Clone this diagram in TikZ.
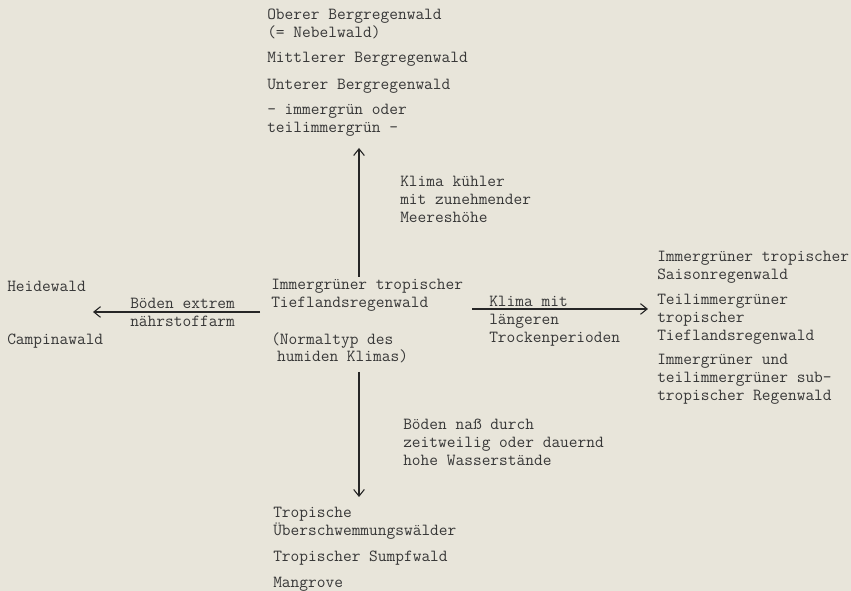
\documentclass[tikz,border=0pt]{standalone}
\usetikzlibrary{arrows.meta}
\definecolor{paper}{RGB}{232,229,218}
\definecolor{ink}{RGB}{55,55,55}
\begin{document}
\begin{tikzpicture}[x=0.75pt,y=-0.75pt,
  lbl/.style={anchor=north west,inner sep=0pt,align=left,text=ink,
    font=\fontsize{12.7}{13.3}\selectfont\ttfamily},
  arr/.style={draw=black!85,line width=0.8pt,-{Straight Barb[length=5pt,width=8pt]}}]
\fill[paper] (0,0) rectangle (851,591);
\useasboundingbox (0,0) rectangle (851,591);
% top
\node[lbl] (top1) at (267,9) {Oberer Bergregenwald\\(= Nebelwald)};
\node[lbl] (top2) at (267,52) {Mittlerer Bergregenwald};
\node[lbl] (top3) at (267,79) {Unterer Bergregenwald};
\node[lbl] (top4) at (267,104) {- immergrün oder\\teilimmergrün -};
% centre
\node[lbl] (c1) at (271,279) {Immergrüner tropischer\\Tieflandsregenwald};
\node[lbl] (c2) at (271,332) {(Normaltyp des\\\hspace*{0.35em}humiden Klimas)};
% labels
\node[lbl] (up) at (400,176) {Klima kühler\\mit zunehmender\\Meereshöhe};
\node[lbl] (dn) at (403,419) {Böden naß durch\\zeitweilig oder dauernd\\hohe Wasserstände};
\node[lbl] (lf) at (130,298) {Böden extrem\\nährstoffarm};
\node[lbl] (rt) at (489,296) {Klima mit\\längeren\\Trockenperioden};
% bottom
\node[lbl] (b1) at (273,507) {Tropische\\Überschwemmungswälder};
\node[lbl] (b2) at (273,551) {Tropischer Sumpfwald};
\node[lbl] (b3) at (273,577) {Mangrove};
% left
\node[lbl] (l1) at (7,281) {Heidewald};
\node[lbl] (l2) at (7,334) {Campinawald};
% right
\node[lbl] (r1) at (657,251) {Immergrüner tropischer\\Saisonregenwald};
\node[lbl] (r2) at (657,294) {Teilimmergrüner\\tropischer\\Tieflandsregenwald};
\node[lbl] (r3) at (657,354) {Immergrüner und\\teilimmergrüner sub-\\tropischer Regenwald};
% arrow ends
\coordinate (uS) at (359,277); \coordinate (uE) at (359,148);
\coordinate (dS) at (359,372); \coordinate (dE) at (359,497);
\coordinate (lS) at (260,312); \coordinate (lE) at (93,312);
\coordinate (rS) at (472,309); \coordinate (rE) at (648,309);
\draw[arr] (uS) -- (uE);
\draw[arr] (dS) -- (dE);
\draw[arr] (lS) -- (lE);
\draw[arr] (rS) -- (rE);
\end{tikzpicture}
\end{document}
